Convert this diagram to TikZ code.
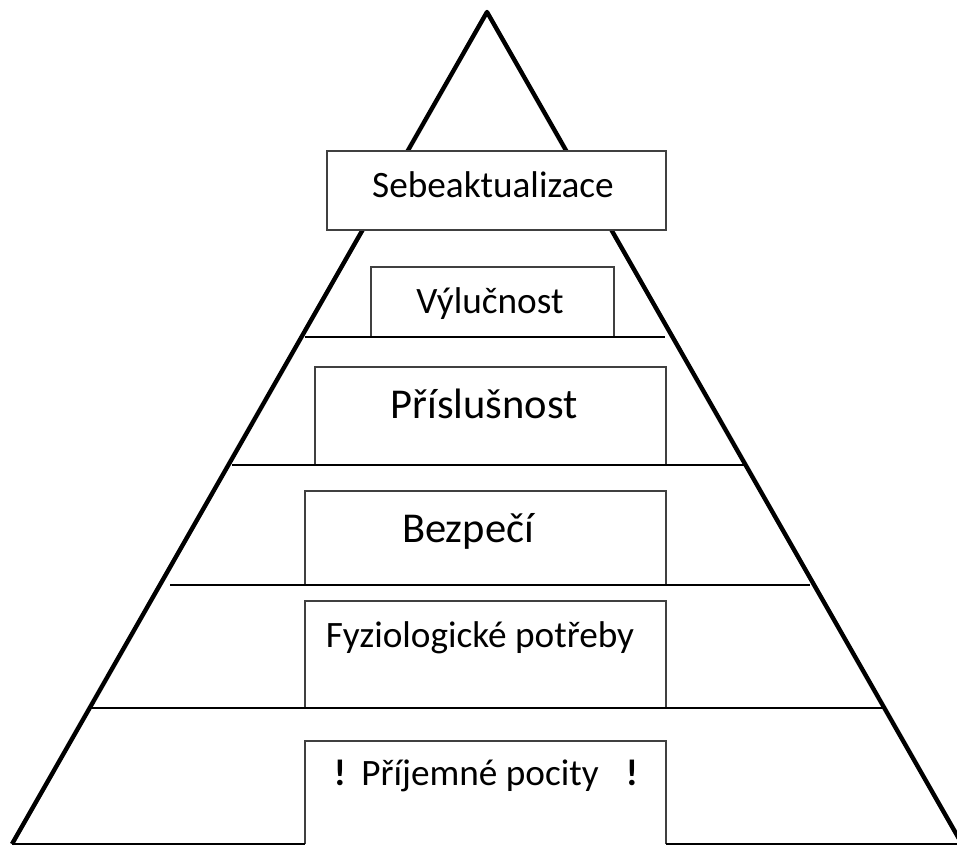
\documentclass[tikz,border=0pt]{standalone}
\usepackage{fontspec}
\setmainfont{Carlito}
\usetikzlibrary{positioning}

\begin{document}
\begin{tikzpicture}[x=0.02cm, y=-0.02cm,
  side/.style={line width=2.5pt, line join=round},
  tier/.style={line width=1pt},
  box/.style={draw=black!75, line width=0.6pt, fill=white},
  lbl/.style={anchor=base, inner sep=0pt, font=\fontsize{21.2}{25}\selectfont},
  biglbl/.style={lbl, font=\fontsize{24.2}{29}\selectfont},
]
  \useasboundingbox (0,0) rectangle (957,846);

  % pyramid
  \coordinate (apex) at (487,12);
  \coordinate (baseL) at (12,844);
  \coordinate (baseR) at (962,844);
  \draw[side] (baseL) -- (apex) -- (baseR);

  % boxes
  \draw[box] (327,151) rectangle (666,230);
  \draw[box] (371,267) rectangle (614,337);
  \draw[box] (315,367) rectangle (666,465);
  \draw[box] (305,491) rectangle (666,585);
  \draw[box] (305,601) rectangle (666,708);
  \draw[box] (305,844) -- (305,741) -- (666,741) -- (666,844);

  % tiers
  \coordinate (t1L) at (305,337); \coordinate (t1R) at (665,337);
  \coordinate (t2L) at (232,465); \coordinate (t2R) at (745,465);
  \coordinate (t3L) at (170,585); \coordinate (t3R) at (810,585);
  \coordinate (t4L) at (92,708);  \coordinate (t4R) at (885,708);
  \coordinate (b1) at (305,844);  \coordinate (b2) at (666,844);
  \draw[tier] (t1L) -- (t1R);
  \draw[tier] (t2L) -- (t2R);
  \draw[tier] (t3L) -- (t3R);
  \draw[tier] (t4L) -- (t4R);
  \draw[tier] (baseL) -- (b1);
  \draw[tier] (b2) -- (baseR);

  % labels
  \node[lbl] (sebe) at (493,197) {Sebeaktualizace};
  \node[lbl] (vylu) at (490,313) {Výlučnost};
  \node[biglbl] (pris) at (484,418) {Příslušnost};
  \node[biglbl] (bezp) at (468,542) {Bezpečí};
  \node[lbl] (fyzi) at (480,647) {Fyziologické potřeby};
  \node[lbl] (prij) at (480,785) {Příjemné pocity};
  \node[lbl] (excl1) at (340,785) {\textbf{!}};
  \node[lbl] (excl2) at (632,785) {\textbf{!}};
\end{tikzpicture}
\end{document}
